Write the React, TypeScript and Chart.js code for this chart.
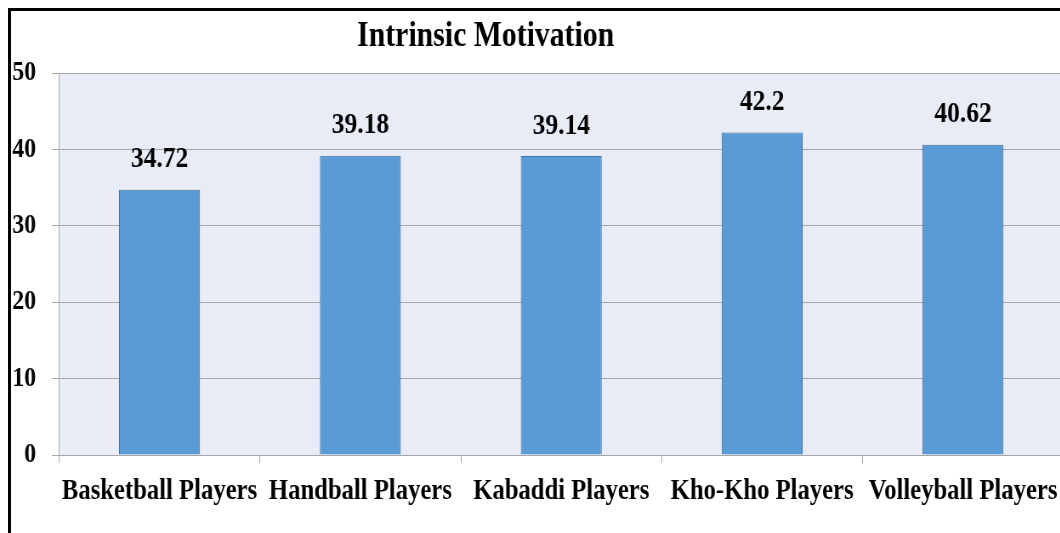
import React, { useEffect, useRef } from "react";
import { Chart, registerables } from "chart.js";

Chart.register(...registerables);

const chartTitle = "Intrinsic Motivation";
const categories = [
  "Basketball Players",
  "Handball Players",
  "Kabaddi Players",
  "Kho-Kho Players",
  "Volleyball Players",
];
const values = [34.72, 39.18, 39.14, 42.2, 40.62];
const valueLabels = ["34.72", "39.18", "39.14", "42.2", "40.62"];
const yMin = 0;
const yMax = 50;
const yStep = 10;

const FONT = "'Liberation Serif', 'Times New Roman', serif";
const SX = 0.85; // horizontal condensation of the rendered canvas
const W = 1242;
const H = 522;

const bgPlugin = {
  id: "plotBg",
  beforeDraw(chart: any) {
    const { ctx, chartArea } = chart;
    ctx.save();
    ctx.fillStyle = "#E8ECF6";
    ctx.fillRect(chartArea.left, chartArea.top, chartArea.right - chartArea.left, chartArea.bottom - chartArea.top);
    ctx.restore();
  },
};

const labelPlugin = {
  id: "valueLabels",
  afterDatasetsDraw(chart: any) {
    const { ctx } = chart;
    const meta = chart.getDatasetMeta(0);
    ctx.save();
    ctx.font = `bold 30px ${FONT}`;
    ctx.fillStyle = "#000";
    ctx.textAlign = "center";
    ctx.textBaseline = "middle";
    meta.data.forEach((bar: any, i: number) => {
      ctx.fillText(valueLabels[i], bar.x, bar.y - 30);
    });
    ctx.restore();
  },
};

const titlePlugin = {
  id: "customTitle",
  afterDraw(chart: any) {
    const { ctx } = chart;
    ctx.save();
    ctx.font = `bold 35px ${FONT}`;
    ctx.fillStyle = "#000";
    ctx.textAlign = "center";
    ctx.textBaseline = "middle";
    ctx.fillText(chartTitle, chart.width * 0.4495, 26);
    ctx.restore();
  },
};

export default function App() {
  const ref = useRef<HTMLCanvasElement | null>(null);

  useEffect(() => {
    const canvas = ref.current;
    if (!canvas) return;
    const chart = new Chart(canvas, {
      type: "bar",
      data: {
        labels: categories,
        datasets: [
          {
            data: values,
            backgroundColor: "#5B9BD5",
            borderColor: "#41719C",
            borderWidth: 1,
            barPercentage: 0.403,
            categoryPercentage: 1,
          },
        ],
      },
      options: {
        responsive: false,
        devicePixelRatio: 1,
        animation: false,
        layout: { padding: { top: 62, right: 3, left: 0, bottom: 0 } },
        plugins: {
          legend: { display: false },
          title: { display: false },
          tooltip: { enabled: false },
        },
        scales: {
          x: {
            offset: true,
            grid: {
              display: true,
              drawOnChartArea: false,
              drawTicks: true,
              tickLength: 8,
              color: "#A6A6A6",
              offset: true,
            },
            border: { display: true, color: "#A6A6A6" },
            ticks: {
              color: "#000",
              font: { family: FONT, size: 29, weight: "bold" },
              padding: 11,
              maxRotation: 0,
              autoSkip: false,
            },
            afterFit: (scale: any) => {
              scale.height = H - 444;
            },
          },
          y: {
            min: yMin,
            max: yMax,
            ticks: {
              stepSize: yStep,
              color: "#000",
              font: { family: FONT, size: 28, weight: "bold" },
              padding: 18.9,
            },
            grid: {
              color: "#A6A6A6",
              tickLength: 8.2,
              drawTicks: true,
            },
            border: { display: true, color: "#A6A6A6" },
            afterFit: (scale: any) => {
              scale.width = 56.5;
            },
          },
        },
      },
      plugins: [bgPlugin, labelPlugin, titlePlugin],
    });
    return () => chart.destroy();
  }, []);

  return (
    <div
      style={{
        position: "absolute",
        left: 8,
        top: 8,
        width: 1052,
        height: 525,
        overflow: "hidden",
        borderTop: "3px solid #000",
        borderLeft: "3px solid #000",
        boxSizing: "border-box",
        background: "#fff",
      }}
    >
      <canvas
        ref={ref}
        width={W}
        height={H}
        style={{ display: "block", width: `${W * SX}px`, height: `${H}px` }}
      />
    </div>
  );
}
